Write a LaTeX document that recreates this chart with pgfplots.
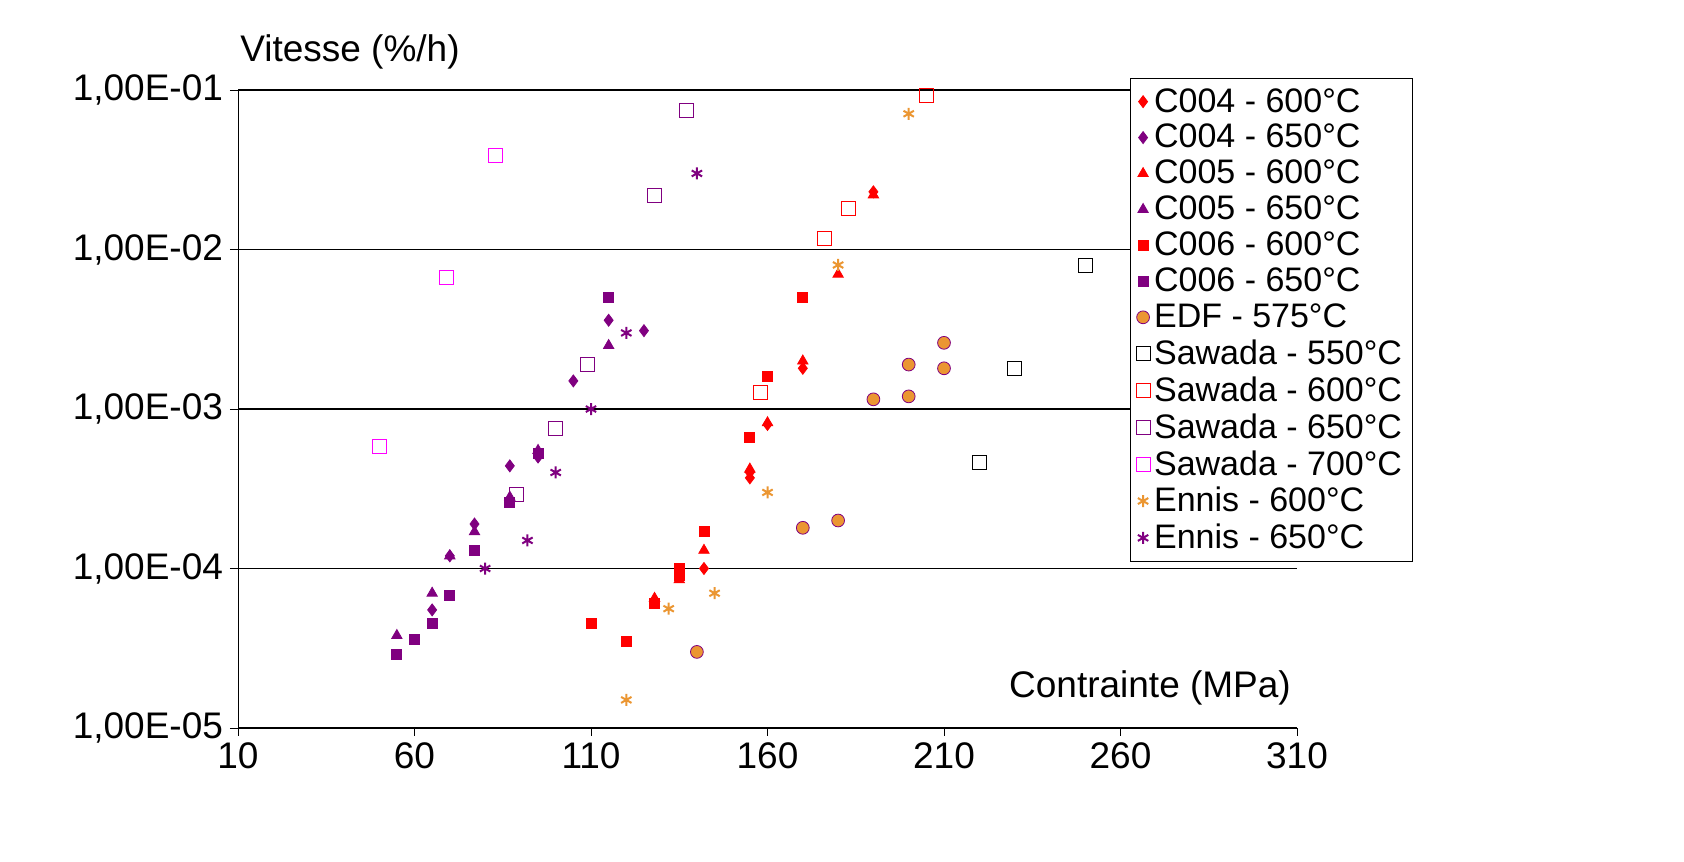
\documentclass[border=0pt]{standalone}
\usepackage{pgfplots}
\pgfplotsset{compat=1.18}
\usepackage{fontspec}
\setmainfont{Liberation Sans}
\definecolor{mred}{RGB}{255,0,0}
\definecolor{mpur}{RGB}{128,0,128}
\definecolor{mora}{RGB}{235,150,50}
\definecolor{mmag}{RGB}{255,0,255}
\begin{document}
\begin{tikzpicture}
\begin{axis}[at={(0,0)}, anchor=south west, scale only axis,
 width=529.5pt, height=319pt,
 ymode=log, xmin=10, xmax=310, ymin=1e-5, ymax=1e-1,
 axis lines=left, axis line style={-}, 
 xtick={10,60,110,160,210,260,310},
 xticklabels={10,60,110,160,210,260,310},
 ytick={1e-5,1e-4,1e-3,1e-2,1e-1},
 yticklabels={{1,00E-05},{1,00E-04},{1,00E-03},{1,00E-02},{1,00E-01}},
 yminorticks=false, ymajorgrids, grid style={black, line width=0.6pt},
 tick align=outside, major tick length=4pt,
 ticklabel style={font=\fontsize{18.5}{20}\selectfont},
 tick style={black},
 legend style={at={(0.842,1.019)}, anchor=north west, draw=black, font=\fontsize{17}{19}\selectfont, row sep=0.6pt, inner sep=3pt},
 legend cell align=left,
 clip=false]
\addplot[only marks, mark=diamond*, mark size=3pt, color=mred] coordinates {(190,2.3e-2)(170,1.8e-3)(160,8e-4)(155,4e-4)(155,3.7e-4)(142,1e-4)};
\addlegendentry{C004 - 600°C}
\addplot[only marks, mark=diamond*, mark size=3pt, color=mpur] coordinates {(115,3.6e-3)(125,3.1e-3)(105,1.5e-3)(87,4.4e-4)(77,1.9e-4)(70,1.2e-4)(65,5.5e-5)(95,5e-4)};
\addlegendentry{C004 - 650°C}
\addplot[only marks, mark=triangle*, mark size=3pt, color=mred] coordinates {(190,2.2e-2)(180,7e-3)(170,2e-3)(160,8.2e-4)(155,4.2e-4)(142,1.3e-4)(135,8.5e-5)(128,6.5e-5)};
\addlegendentry{C005 - 600°C}
\addplot[only marks, mark=triangle*, mark size=3pt, color=mpur] coordinates {(115,2.5e-3)(95,5.5e-4)(87,2.8e-4)(77,1.7e-4)(70,1.2e-4)(65,7e-5)(55,3.8e-5)};
\addlegendentry{C005 - 650°C}
\addplot[only marks, mark=square*, mark size=2.5pt, color=mred] coordinates {(170,5e-3)(160,1.6e-3)(155,6.6e-4)(142,1.7e-4)(135,1e-4)(135,9e-5)(128,6e-5)(120,3.5e-5)(110,4.5e-5)};
\addlegendentry{C006 - 600°C}
\addplot[only marks, mark=square*, mark size=2.5pt, color=mpur] coordinates {(115,5e-3)(95,5.3e-4)(87,2.6e-4)(77,1.3e-4)(70,6.8e-5)(65,4.5e-5)(60,3.6e-5)(55,2.9e-5)};
\addlegendentry{C006 - 650°C}
\addplot[only marks, mark=*, mark size=3.2pt, draw=mpur, fill=mora] coordinates {(210,2.6e-3)(200,1.9e-3)(210,1.8e-3)(200,1.2e-3)(190,1.15e-3)(180,2e-4)(170,1.8e-4)(140,3e-5)};
\addlegendentry{EDF - 575°C}
\addplot[only marks, mark=square, mark size=3.5pt, color=black] coordinates {(250,8e-3)(230,1.8e-3)(220,4.6e-4)};
\addlegendentry{Sawada - 550°C}
\addplot[only marks, mark=square, mark size=3.5pt, color=mred] coordinates {(205,9.2e-2)(183,1.8e-2)(176,1.18e-2)(158,1.27e-3)};
\addlegendentry{Sawada - 600°C}
\addplot[only marks, mark=square, mark size=3.5pt, color=mpur] coordinates {(137,7.5e-2)(128,2.2e-2)(109,1.9e-3)(100,7.6e-4)(89,2.9e-4)};
\addlegendentry{Sawada - 650°C}
\addplot[only marks, mark=square, mark size=3.5pt, color=mmag] coordinates {(83,3.9e-2)(69,6.7e-3)(50,5.8e-4)};
\addlegendentry{Sawada - 700°C}
\addplot[only marks, mark=asterisk, mark size=3pt, color=mora, mark options={line width=1pt}] coordinates {(200,7.1e-2)(180,8e-3)(160,3e-4)(145,7e-5)(132,5.6e-5)(120,1.5e-5)};
\addlegendentry{Ennis - 600°C}
\addplot[only marks, mark=asterisk, mark size=3pt, color=mpur, mark options={line width=1pt}] coordinates {(140,3e-2)(120,3e-3)(110,1e-3)(100,4e-4)(92,1.5e-4)(80,1e-4)};
\addlegendentry{Ennis - 650°C}
\end{axis}
\node[font=\fontsize{18.5}{20}\selectfont] at (56pt,338pt) {Vitesse (\%/h)};
\node[font=\fontsize{18.5}{20}\selectfont] at (456pt,20pt) {Contrainte (MPa)};
\pgfresetboundingbox
\path (-119pt,-66.5pt) rectangle (723pt,364pt);
\end{tikzpicture}
\end{document}
